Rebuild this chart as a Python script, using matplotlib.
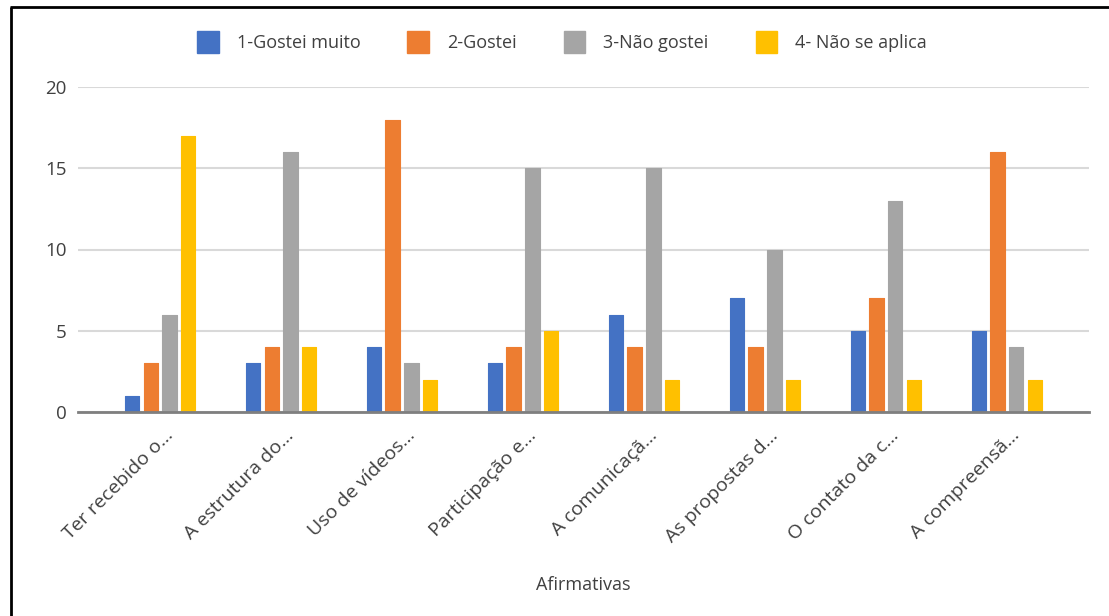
import numpy as np
import matplotlib.pyplot as plt
from matplotlib.lines import Line2D
from matplotlib.patches import Patch
from matplotlib.transforms import ScaledTranslation

# categories and answer counts
afirmativas = ['Ter recebido o...', 'A estrutura do...', 'Uso de vídeos...', 'Participação e...',
               'A comunicaçã...', 'As propostas d...', 'O contato da c...', 'A compreensã...']
series_names = ['1-Gostei muito', '2-Gostei', '3-Não gostei', '4- Não se aplica']
gostei_muito = [1, 3, 4, 3, 6, 7, 5, 5]
gostei = [3, 4, 18, 4, 4, 4, 7, 16]
nao_gostei = [6, 16, 3, 15, 15, 10, 13, 4]
nao_se_aplica = [17, 4, 2, 5, 2, 2, 2, 2]
colors = ['#4472C4', '#ED7D31', '#A5A5A5', '#FFC000']

plt.rcParams['font.family'] = ['Open Sans', 'DejaVu Sans']

W, H = 1109, 616
fig = plt.figure(figsize=(W / 100, H / 100), dpi=100)
ax = fig.add_axes([78 / W, 1 - 412 / H, (1089 - 78) / W, (412 - 87) / H])

x = np.arange(len(afirmativas))
step = 0.155
width = 0.118
for i, (vals, c) in enumerate(zip([gostei_muito, gostei, nao_gostei, nao_se_aplica], colors)):
    ax.bar(x + (i - 1.5) * step, vals, width, color=c, edgecolor=c,
           linewidth=0.8, joinstyle='round', zorder=3)

ax.set_xlim(-0.678, 7.678)
ax.set_ylim(0, 20)
ax.set_yticks([0, 5, 10, 15, 20])
ax.grid(axis='y', color='#D9D9D9', linewidth=1.5, zorder=0)
for s in ['top', 'right', 'left']:
    ax.spines[s].set_visible(False)
ax.spines['bottom'].set_color('#7F7F7F')
ax.spines['bottom'].set_linewidth(2)
ax.spines['bottom'].set_zorder(4)

ax.tick_params(axis='y', length=0, pad=8, labelsize=13.5, labelcolor='#404040')
ax.tick_params(axis='x', length=0)
ax.set_xticks(x)
ax.set_xticklabels(afirmativas, rotation=45, ha='right', va='center',
                   rotation_mode='anchor', fontsize=14, color='#404040')
shift = ScaledTranslation(10 / 100, -16 / 100, fig.dpi_scale_trans)
for lab in ax.get_xticklabels():
    lab.set_transform(lab.get_transform() + shift)

fig.text(583 / W, 1 - 585 / H, 'Afirmativas', ha='center', va='center',
         fontsize=13, color='#404040')

handles = [Patch(facecolor=c, edgecolor=c) for c in colors]
fig.legend(handles, series_names, loc='center', bbox_to_anchor=(562 / W, 1 - 42 / H),
           ncol=4, frameon=False, handlelength=1.2, handleheight=1.5,
           handletextpad=1.0, columnspacing=2.6,
           prop={'size': 13}, labelcolor='#404040')

# frame around the chart
fig.add_artist(Line2D([10.5 / W, 10.5 / W], [0, 1 - 7 / H], color='black',
                      linewidth=2, solid_capstyle='butt'))
fig.add_artist(Line2D([9.5 / W, 1], [1 - 7 / H, 1 - 7 / H], color='black',
                      linewidth=2, solid_capstyle='butt'))

fig.savefig('out.png', dpi=100)
